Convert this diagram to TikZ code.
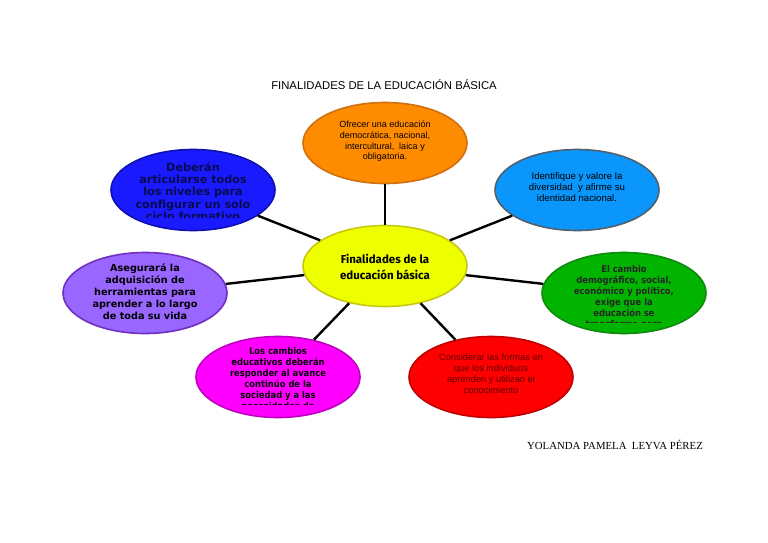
\documentclass[tikz,border=0pt]{standalone}
\usepackage{fontspec}
\setmainfont{Liberation Sans}
\newfontfamily\serifone{Liberation Serif}
\newfontfamily\boldsans{DejaVu Sans}
\newfontfamily\condsans{DejaVu Sans Condensed}
\newfontfamily\centerfont{Fira Sans}
\usetikzlibrary{shapes.geometric}
\definecolor{cOrange}{HTML}{FF8C00}
\definecolor{cOrangeB}{HTML}{D07010}
\definecolor{cBlue}{HTML}{1A1AFF}
\definecolor{cBlueB}{HTML}{1010B0}
\definecolor{cLBlue}{HTML}{0A96FA}
\definecolor{cLBlueB}{HTML}{50606E}
\definecolor{cYellow}{HTML}{EEFF00}
\definecolor{cYellowB}{HTML}{C8C810}
\definecolor{cPurple}{HTML}{9966FF}
\definecolor{cPurpleB}{HTML}{7030C0}
\definecolor{cGreen}{HTML}{00B400}
\definecolor{cGreenB}{HTML}{108A10}
\definecolor{cMagenta}{HTML}{FF00FF}
\definecolor{cMagentaB}{HTML}{C000C0}
\definecolor{cRed}{HTML}{FF0000}
\definecolor{cRedB}{HTML}{C00000}
\definecolor{cNavy}{HTML}{0A0A50}
\definecolor{cDarkRed}{HTML}{600000}
\tikzset{
  bubble/.style={ellipse, draw, line width=1.6pt, minimum width=164pt, minimum height=81pt, inner sep=0pt},
  link/.style={line width=2.4pt, draw=black},
  txt/.style={align=center, inner sep=0pt},
}
\begin{document}
\begin{tikzpicture}[x=1pt,y=-1pt]
\useasboundingbox (0,0) rectangle (768,543);
% ellipses
\node[bubble, fill=cOrange, draw=cOrangeB] (top) at (385,143) {};
\node[bubble, fill=cBlue, draw=cBlueB] (tl) at (193,190) {};
\node[bubble, fill=cLBlue, draw=cLBlueB] (tr) at (577,190) {};
\node[bubble, fill=cYellow, draw=cYellowB] (c) at (385,266) {};
\node[bubble, fill=cPurple, draw=cPurpleB] (l) at (145,293) {};
\node[bubble, fill=cGreen, draw=cGreenB] (r) at (624,293) {};
\node[bubble, fill=cMagenta, draw=cMagentaB] (bl) at (278,377) {};
\node[bubble, fill=cRed, draw=cRedB] (br) at (491,377) {};
% connectors
\foreach \n in {top,tl,tr,l,r,bl,br} \draw[link] (c) -- (\n);
% titles
\node[txt, font=\fontsize{11.3}{13}\selectfont] (title) at (384,85) {FINALIDADES DE LA EDUCACIÓN BÁSICA};
\node[txt, font=\serifone\fontsize{10.8}{12}\selectfont] (author) at (615,445) {YOLANDA PAMELA\ \ LEYVA PÉREZ};
% texts
\node[txt, font=\fontsize{9}{10.6}\selectfont, anchor=north] (ttop) at (385,121) {Ofrecer una educación\\democrática, nacional,\\intercultural,\ \ laica y\\obligatoria.};
\node[txt, font=\fontsize{9.6}{11}\selectfont, anchor=north] (ttr) at (577,172) {Identifique y valore la\\diversidad\ \ y afirme su\\identidad nacional.};
\node[txt, font=\centerfont\bfseries\fontsize{11.5}{16}\selectfont] (tc) at (385,267) {Finalidades de la\\educación básica};
\node[txt, font=\fontsize{9.3}{11}\selectfont, text=cDarkRed, anchor=north] (tbr) at (491,354) {Considerar las formas en\\que los individuos\\aprenden y utilizan el\\conocimiento};
\node[txt, font=\boldsans\bfseries\fontsize{9.7}{11.9}\selectfont, anchor=north] (tl2) at (145,264) {Asegurará la\\adquisición de\\herramientas para\\aprender a lo largo\\de toda su vida};
\begin{scope}
\clip (100,150) rectangle (290,217);
\node[txt, font=\boldsans\bfseries\fontsize{11.2}{12.3}\selectfont, text=cNavy, anchor=north] (ttl) at (193,162) {Deberán\\articularse todos\\los niveles para\\configurar un solo\\ciclo formativo};
\end{scope}
\begin{scope}
\clip (540,250) rectangle (710,322);
\node[txt, font=\condsans\bfseries\fontsize{9.3}{11}\selectfont, text=black!85, anchor=north] (tr2) at (624,265) {El cambio\\demográfico, social,\\económico y político,\\exige que la\\educación se\\transforme para};
\end{scope}
\begin{scope}
\clip (190,335) rectangle (365,404);
\node[txt, font=\condsans\bfseries\fontsize{9.3}{11}\selectfont, anchor=north] (tbl) at (278,347) {Los cambios\\educativos deberán\\responder al avance\\continúo de la\\sociedad y a las\\necesidades de};
\end{scope}
\end{tikzpicture}
\end{document}
